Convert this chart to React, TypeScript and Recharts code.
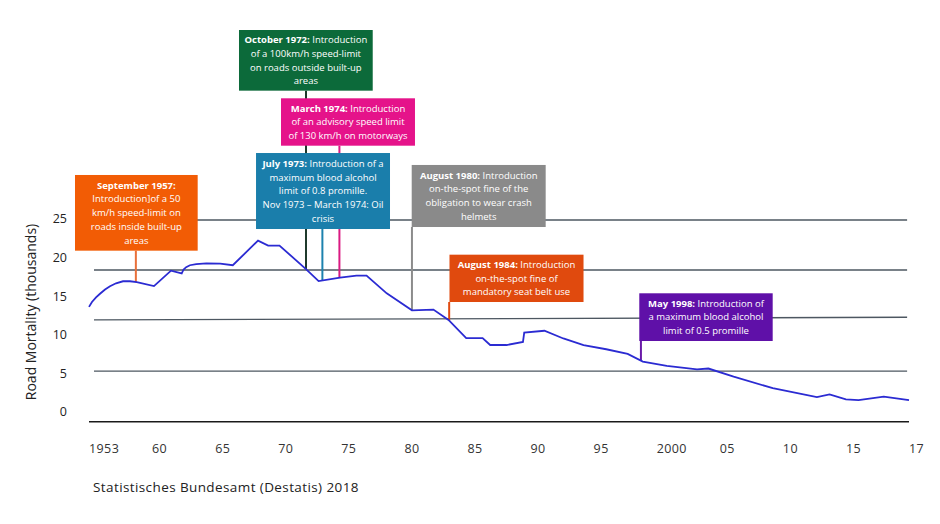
import React from 'react';
import { LineChart, Line, XAxis, YAxis, ReferenceArea } from 'recharts';

// ---- axis definition (labels are evenly spaced on the axis) ----
const tickYears = [1953, 1960, 1965, 1970, 1975, 1980, 1985, 1990, 1995, 2000, 2005, 2010, 2015, 2017];
const tickLabels = ['1953', '60', '65', '70', '75', '80', '85', '90', '95', '2000', '05', '10', '15', '17'];
const yTicks = [0, 5, 10, 15, 20, 25];

// ---- series: road mortality (thousands) ----
const years = [
  1953, 1953.33, 1953.78, 1954.22, 1954.78, 1955.33, 1956.0, 1956.77, 1957.55, 1958.3, 1960.15,
  1961.5, 1962.35, 1962.5, 1962.7, 1963.0, 1963.5, 1964.3, 1965.4, 1966.4, 1968.4, 1969.2, 1970.1,
  1972.2, 1973.2, 1974.9, 1976.2, 1977.0, 1978.6, 1980.6, 1982.3, 1983.5, 1984.9, 1986.2, 1986.8,
  1988.1, 1989.4, 1989.5, 1991.1, 1992.6, 1994.2, 1996.0, 1997.7, 1998.9, 2000.8, 2003.2, 2004.1,
  2006.1, 2009.2, 2012.7, 2013.7, 2015.0, 2015.4, 2016.2, 2017.0,
];
const deaths = [
  13.6, 14.23, 14.82, 15.3, 15.85, 16.27, 16.66, 16.92, 16.92, 16.8, 16.3,
  18.3, 17.95, 18.45, 18.75, 19.0, 19.15, 19.25, 19.2, 19.0, 22.2, 21.55, 21.55,
  18.5, 16.95, 17.4, 17.65, 17.65, 15.35, 13.15, 13.25, 11.9, 9.55, 9.55, 8.65,
  8.65, 9.05, 10.25, 10.5, 9.5, 8.65, 8.1, 7.5, 6.5, 5.95, 5.5, 5.6,
  4.55, 3.05, 1.9, 2.25, 1.6, 1.5, 1.95, 1.5,
];

// ---- events ----
const eventYears = [1958.2, 1972.2, 1973.5, 1974.85, 1980.6, 1983.55, 1998.75];
const eventTexts = [
  [{ b: 'September 1957:' }, { t: 'Introduction]of a 50' }, { t: 'km/h speed-limit on' }, { t: 'roads inside built-up' }, { t: 'areas' }],
  [{ b: 'October 1972:', t: ' Introduction' }, { t: 'of a 100km/h speed-limit' }, { t: 'on roads outside built-up' }, { t: 'areas' }],
  [{ b: 'July 1973:', t: ' Introduction of a' }, { t: 'maximum blood alcohol' }, { t: 'limit of 0.8 promille.' }, { t: 'Nov 1973 \u2013 March 1974: Oil' }, { t: 'crisis' }],
  [{ b: 'March 1974:', t: ' Introduction' }, { t: 'of an advisory speed limit' }, { t: 'of 130 km/h on motorways' }],
  [{ b: 'August 1980:', t: ' Introduction' }, { t: 'on-the-spot fine of the' }, { t: 'obligation to wear crash' }, { t: 'helmets' }],
  [{ b: 'August 1984:', t: ' Introduction' }, { t: 'on-the-spot fine of' }, { t: 'mandatory seat belt use' }],
  [{ b: 'May 1998:', t: ' Introduction of' }, { t: 'a maximum blood alcohol' }, { t: 'limit of 0.5 promille' }],
];

// ---- layout / style (not data) ----
const boxColors = ['#f25c05', '#0c6a3a', '#1a7eab', '#e5138a', '#8a8a8a', '#e04a0e', '#5f10a8'];
const stemColors = ['#e8703a', '#1f3a2c', '#1d82ae', '#da1a82', '#8c8c8c', '#e04a10', '#6a1aa8'];
// boxes in axis units: [x1, x2, yTop, yBottom]
const boxLayout = [
  [-0.222, 1.723, 30.71, 20.89],
  [2.378, 4.498, 49.52, 41.65],
  [2.648, 4.772, 33.56, 23.7],
  [3.044, 5.168, 40.66, 34.51],
  [5.116, 7.24, 32.01, 23.96],
  [5.715, 7.84, 20.37, 14.23],
  [8.724, 10.839, 15.36, 9.17],
];
// drawing order (later on top)
const boxOrder = [0, 1, 3, 2, 4, 5, 6];
// gridlines: [value at left end, value at right end]
const gridLines = [
  [24.87, 24.87],
  [18.38, 18.38],
  [11.9, 12.25],
  [5.25, 5.25],
];
const gridX = [0.079, 12.97];
const FONT = '"Open Sans", sans-serif';

// year -> axis position (labels evenly spaced)
const yearToPos = (y: number) => {
  for (let i = 0; i < tickYears.length - 1; i++) {
    if (y <= tickYears[i + 1] || i === tickYears.length - 2) {
      return i + (y - tickYears[i]) / (tickYears[i + 1] - tickYears[i]);
    }
  }
  return 0;
};
const valueAt = (y: number) => {
  for (let i = 0; i < years.length - 1; i++) {
    if (y >= years[i] && y <= years[i + 1]) {
      return deaths[i] + ((deaths[i + 1] - deaths[i]) * (y - years[i])) / (years[i + 1] - years[i]);
    }
  }
  return deaths[deaths.length - 1];
};

const data = years.map((y, i) => ({ pos: yearToPos(y), year: y, value: deaths[i] }));

const normBox = (vb: any) => {
  const x = Math.min(vb.x, vb.x + vb.width);
  const y = Math.min(vb.y, vb.y + vb.height);
  return { x, y, w: Math.abs(vb.width), h: Math.abs(vb.height) };
};

const XTick = (props: any) => {
  const { x, y, payload } = props;
  return (
    <text x={x} y={y} dy={31} textAnchor="start" fill="#333" fontSize={12.5} letterSpacing={0.4} fontFamily={FONT}>
      {tickLabels[payload.value]}
    </text>
  );
};

const makeGridLabel = (g: number[]) => (props: any) => {
  const { x, y, w, h } = normBox(props.viewBox || {});
  const leftY = g[0] <= g[1] ? y + h : y;
  const rightY = g[0] <= g[1] ? y : y + h;
  return <line x1={x} y1={leftY} x2={x + w} y2={rightY} stroke="#4d5761" strokeWidth={1.3} />;
};

const makeStemLabel = (idx: number) => (props: any) => {
  const { x, y, h } = normBox(props.viewBox || {});
  return <line x1={x} y1={y} x2={x} y2={y + h} stroke={stemColors[idx]} strokeWidth={2} />;
};

const makeBoxLabel = (idx: number) => (props: any) => {
  const { x, y, w, h } = normBox(props.viewBox || {});
  const lines = eventTexts[idx];
  const lh = 13.7;
  const first = y + h / 2 - ((lines.length - 1) * lh) / 2;
  return (
    <g>
      <rect x={x} y={y} width={w} height={h} fill={boxColors[idx]} />
      <text textAnchor="middle" fill="#fff" fontSize={9.5} fontFamily={FONT}>
        {lines.map((ln: any, i: number) => (
          <tspan key={i} x={x + w / 2} y={first + i * lh} dy="0.35em">
            {ln.b ? <tspan fontWeight={700}>{ln.b}</tspan> : null}
            {ln.t ? ln.t : null}
          </tspan>
        ))}
      </text>
    </g>
  );
};

const YTitle = () => (
  <text
    x={30}
    y={312}
    transform="rotate(-90 30 312)"
    textAnchor="middle"
    dominantBaseline="central"
    fill="#222"
    fontSize={14}
    fontFamily={FONT}
  >
    Road Mortality (thousands)
  </text>
);

export default function App() {
  return (
    <div style={{ position: 'absolute', left: 0, top: 0, width: 940, height: 524, background: '#fff', fontFamily: FONT }}>
      <LineChart width={940} height={524} data={data} margin={{ top: 18.6, right: 31, bottom: 62.3, left: 0 }}>
        <XAxis
          type="number"
          dataKey="pos"
          domain={[0, 13]}
          ticks={tickLabels.map((_, i) => i)}
          interval={0}
          tick={<XTick />}
          tickLine={false}
          tickSize={0}
          tickMargin={0}
          axisLine={{ stroke: '#1a1a1a', strokeWidth: 1.5 }}
          height={40}
        />
        <YAxis
          type="number"
          domain={[-1.3, 51]}
          ticks={yTicks}
          interval={0}
          width={89}
          axisLine={false}
          tickLine={false}
          tickSize={0}
          tickMargin={22}
          tick={{ fill: '#222', fontSize: 12.5, fontFamily: FONT }}
          label={<YTitle />}
        />
        {gridLines.map((g, i) => (
          <ReferenceArea
            key={'g' + i}
            x1={gridX[0]}
            x2={gridX[1]}
            y1={g[0]}
            y2={g[1]}
            fillOpacity={0}
            strokeOpacity={0}
            ifOverflow="visible"
            label={makeGridLabel(g)}
          />
        ))}
        {boxOrder.map((i) => [
          <ReferenceArea
            key={'s' + i}
            x1={yearToPos(eventYears[i])}
            x2={yearToPos(eventYears[i])}
            y1={valueAt(eventYears[i])}
            y2={boxLayout[i][3]}
            fillOpacity={0}
            strokeOpacity={0}
            ifOverflow="visible"
            label={makeStemLabel(i)}
          />,
          <ReferenceArea
            key={'b' + i}
            x1={boxLayout[i][0]}
            x2={boxLayout[i][1]}
            y1={boxLayout[i][3]}
            y2={boxLayout[i][2]}
            fillOpacity={0}
            strokeOpacity={0}
            ifOverflow="visible"
            label={makeBoxLabel(i)}
          />,
        ])}
        <Line
          type="linear"
          dataKey="value"
          stroke="#2b2bd2"
          strokeWidth={1.8}
          dot={false}
          isAnimationActive={false}
        />
      </LineChart>
      <div
        style={{
          position: 'absolute',
          left: 93,
          top: 478,
          fontSize: 13.5,
          letterSpacing: 0.4,
          color: '#222',
          fontFamily: FONT,
          whiteSpace: 'nowrap',
        }}
      >
        Statistisches Bundesamt (Destatis) 2018
      </div>
    </div>
  );
}
